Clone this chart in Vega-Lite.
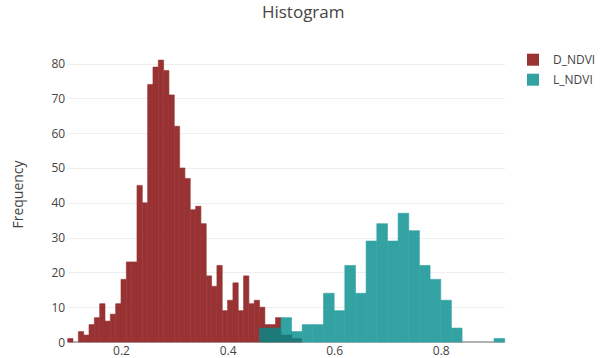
{
  "$schema": "https://vega.github.io/schema/vega-lite/v6.json",
  "width": 437,
  "height": 296,
  "autosize": {"type": "none"},
  "padding": {"left": 67.7, "top": 46, "right": 98.3, "bottom": 16},
  "background": "white",
  "config": {"view": {"stroke": null}, "font": "Open Sans"},
  "title": {"text": "Histogram", "fontSize": 17, "font": "Open Sans", "fontWeight": "normal", "color": "#444", "anchor": "middle", "baseline": "alphabetic", "offset": 11, "dx": 17},
  "layer": [
    {
      "data": {"values": [{"v": 0}]},
      "mark": {"type": "rule", "color": "#9a9a9a", "strokeWidth": 1.5},
      "encoding": {
        "y": {"field": "v", "type": "quantitative",
              "scale": {"domain": [0, 85.05], "nice": false},
              "axis": {"values": [0, 10, 20, 30, 40, 50, 60, 70, 80], "labelOverlap": false, "grid": true, "gridColor": "#eeeeee", "domain": false, "ticks": false, "labelFontSize": 12, "labelColor": "#444", "labelPadding": 3, "title": "Frequency", "titleFontSize": 14, "titleColor": "#444", "titleFontWeight": "normal", "titleX": -49, "titleY": 148, "titleAngle": 270, "titleAlign": "center", "titleBaseline": "middle"}}
      }
    },
    {
      "data": {"values": [
        {"series": "D_NDVI", "bin_start": 0.10, "bin_end": 0.11, "count": 1},
        {"series": "D_NDVI", "bin_start": 0.12, "bin_end": 0.13, "count": 3},
        {"series": "D_NDVI", "bin_start": 0.13, "bin_end": 0.14, "count": 2},
        {"series": "D_NDVI", "bin_start": 0.14, "bin_end": 0.15, "count": 5},
        {"series": "D_NDVI", "bin_start": 0.15, "bin_end": 0.16, "count": 7},
        {"series": "D_NDVI", "bin_start": 0.16, "bin_end": 0.17, "count": 11},
        {"series": "D_NDVI", "bin_start": 0.17, "bin_end": 0.18, "count": 6},
        {"series": "D_NDVI", "bin_start": 0.18, "bin_end": 0.19, "count": 8},
        {"series": "D_NDVI", "bin_start": 0.19, "bin_end": 0.20, "count": 11},
        {"series": "D_NDVI", "bin_start": 0.20, "bin_end": 0.21, "count": 18},
        {"series": "D_NDVI", "bin_start": 0.21, "bin_end": 0.22, "count": 23},
        {"series": "D_NDVI", "bin_start": 0.22, "bin_end": 0.23, "count": 23},
        {"series": "D_NDVI", "bin_start": 0.23, "bin_end": 0.24, "count": 45},
        {"series": "D_NDVI", "bin_start": 0.24, "bin_end": 0.25, "count": 40},
        {"series": "D_NDVI", "bin_start": 0.25, "bin_end": 0.26, "count": 74},
        {"series": "D_NDVI", "bin_start": 0.26, "bin_end": 0.27, "count": 79},
        {"series": "D_NDVI", "bin_start": 0.27, "bin_end": 0.28, "count": 81},
        {"series": "D_NDVI", "bin_start": 0.28, "bin_end": 0.29, "count": 78},
        {"series": "D_NDVI", "bin_start": 0.29, "bin_end": 0.30, "count": 71},
        {"series": "D_NDVI", "bin_start": 0.30, "bin_end": 0.31, "count": 62},
        {"series": "D_NDVI", "bin_start": 0.31, "bin_end": 0.32, "count": 50},
        {"series": "D_NDVI", "bin_start": 0.32, "bin_end": 0.33, "count": 47},
        {"series": "D_NDVI", "bin_start": 0.33, "bin_end": 0.34, "count": 38},
        {"series": "D_NDVI", "bin_start": 0.34, "bin_end": 0.35, "count": 39},
        {"series": "D_NDVI", "bin_start": 0.35, "bin_end": 0.36, "count": 34},
        {"series": "D_NDVI", "bin_start": 0.36, "bin_end": 0.37, "count": 19},
        {"series": "D_NDVI", "bin_start": 0.37, "bin_end": 0.38, "count": 16},
        {"series": "D_NDVI", "bin_start": 0.38, "bin_end": 0.39, "count": 22},
        {"series": "D_NDVI", "bin_start": 0.39, "bin_end": 0.40, "count": 9},
        {"series": "D_NDVI", "bin_start": 0.40, "bin_end": 0.41, "count": 12},
        {"series": "D_NDVI", "bin_start": 0.41, "bin_end": 0.42, "count": 17},
        {"series": "D_NDVI", "bin_start": 0.42, "bin_end": 0.43, "count": 9},
        {"series": "D_NDVI", "bin_start": 0.43, "bin_end": 0.44, "count": 19},
        {"series": "D_NDVI", "bin_start": 0.44, "bin_end": 0.45, "count": 11},
        {"series": "D_NDVI", "bin_start": 0.45, "bin_end": 0.46, "count": 12},
        {"series": "D_NDVI", "bin_start": 0.46, "bin_end": 0.47, "count": 10},
        {"series": "D_NDVI", "bin_start": 0.47, "bin_end": 0.48, "count": 5},
        {"series": "D_NDVI", "bin_start": 0.48, "bin_end": 0.49, "count": 5},
        {"series": "D_NDVI", "bin_start": 0.49, "bin_end": 0.50, "count": 7},
        {"series": "D_NDVI", "bin_start": 0.50, "bin_end": 0.51, "count": 2},
        {"series": "D_NDVI", "bin_start": 0.51, "bin_end": 0.52, "count": 2},
        {"series": "D_NDVI", "bin_start": 0.52, "bin_end": 0.53, "count": 1},
        {"series": "D_NDVI", "bin_start": 0.53, "bin_end": 0.54, "count": 1},
        {"series": "L_NDVI", "bin_start": 0.46, "bin_end": 0.48, "count": 4},
        {"series": "L_NDVI", "bin_start": 0.48, "bin_end": 0.50, "count": 4},
        {"series": "L_NDVI", "bin_start": 0.50, "bin_end": 0.52, "count": 7},
        {"series": "L_NDVI", "bin_start": 0.52, "bin_end": 0.54, "count": 3},
        {"series": "L_NDVI", "bin_start": 0.54, "bin_end": 0.56, "count": 5},
        {"series": "L_NDVI", "bin_start": 0.56, "bin_end": 0.58, "count": 5},
        {"series": "L_NDVI", "bin_start": 0.58, "bin_end": 0.60, "count": 14},
        {"series": "L_NDVI", "bin_start": 0.60, "bin_end": 0.62, "count": 9},
        {"series": "L_NDVI", "bin_start": 0.62, "bin_end": 0.64, "count": 22},
        {"series": "L_NDVI", "bin_start": 0.64, "bin_end": 0.66, "count": 14},
        {"series": "L_NDVI", "bin_start": 0.66, "bin_end": 0.68, "count": 29},
        {"series": "L_NDVI", "bin_start": 0.68, "bin_end": 0.70, "count": 34},
        {"series": "L_NDVI", "bin_start": 0.70, "bin_end": 0.72, "count": 29},
        {"series": "L_NDVI", "bin_start": 0.72, "bin_end": 0.74, "count": 37},
        {"series": "L_NDVI", "bin_start": 0.74, "bin_end": 0.76, "count": 32},
        {"series": "L_NDVI", "bin_start": 0.76, "bin_end": 0.78, "count": 22},
        {"series": "L_NDVI", "bin_start": 0.78, "bin_end": 0.80, "count": 18},
        {"series": "L_NDVI", "bin_start": 0.80, "bin_end": 0.82, "count": 12},
        {"series": "L_NDVI", "bin_start": 0.82, "bin_end": 0.84, "count": 4},
        {"series": "L_NDVI", "bin_start": 0.90, "bin_end": 0.92, "count": 1}
      ]},
      "mark": {"type": "rect", "strokeWidth": 0.6},
      "encoding": {
        "x": {"field": "bin_start", "type": "quantitative",
              "scale": {"domain": [0.1, 0.92], "nice": false, "zero": false},
              "axis": {"values": [0.2, 0.4, 0.6, 0.8], "format": ".1f", "grid": false, "domain": false, "ticks": false, "labelFontSize": 12, "labelColor": "#444", "labelPadding": 3, "title": null}},
        "x2": {"field": "bin_end"},
        "y": {"field": "count", "type": "quantitative",
              "scale": {"domain": [0, 85.05], "nice": false},
              "axis": {"values": [0, 10, 20, 30, 40, 50, 60, 70, 80], "labelOverlap": false, "grid": true, "gridColor": "#eeeeee", "domain": false, "ticks": false, "labelFontSize": 12, "labelColor": "#444", "labelPadding": 3, "title": "Frequency", "titleFontSize": 14, "titleColor": "#444", "titleFontWeight": "normal", "titleX": -49, "titleY": 148, "titleAngle": 270, "titleAlign": "center", "titleBaseline": "middle"}},
        "y2": {"datum": 0},
        "color": {
          "condition": {"test": "datum.series == 'L_NDVI' && datum.bin_start < 0.535", "value": "#008b8b"},
          "field": "series", "type": "nominal",
          "scale": {"domain": ["D_NDVI", "L_NDVI"], "range": ["#993333", "#33a2a2"]},
          "legend": {"orient": "none", "legendX": 459.3, "legendY": 7.7, "title": null, "symbolType": "square", "symbolSize": 144, "symbolStrokeWidth": 0, "labelFontSize": 12, "labelColor": "#444", "labelOffset": 14, "rowPadding": 8, "padding": 0}},
        "stroke": {
          "condition": {"test": "datum.series == 'L_NDVI' && datum.bin_start < 0.535", "value": "#008b8b"},
          "field": "series", "type": "nominal",
          "scale": {"domain": ["D_NDVI", "L_NDVI"], "range": ["#993333", "#33a2a2"]},
          "legend": null},
        "opacity": {
          "condition": {"test": "datum.series == 'L_NDVI' && datum.bin_start < 0.535", "value": 0.8},
          "value": 1}
      }
    }
  ]
}
